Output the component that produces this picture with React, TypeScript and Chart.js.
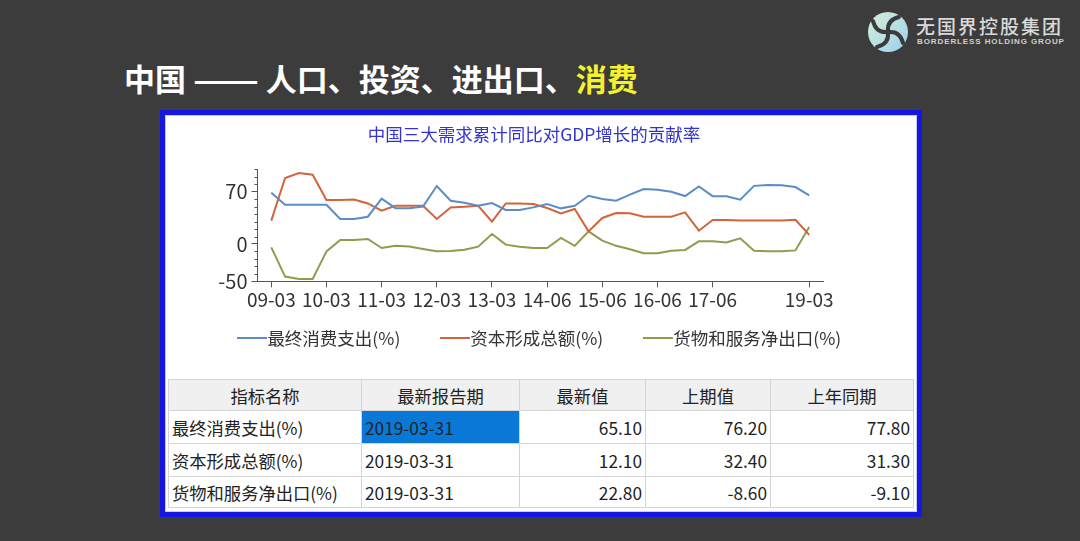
import React, { useEffect, useRef } from 'react';
import { Chart, registerables } from 'chart.js';

Chart.register(...registerables);

const FONT = '"Noto Sans CJK SC", "Noto Sans", sans-serif';

// ---------- data ----------
const categories = [
  '09-03', '09-06', '09-09', '09-12', '10-03', '10-06', '10-09', '10-12',
  '11-03', '11-06', '11-09', '11-12', '12-03', '12-06', '12-09', '12-12',
  '13-03', '13-06', '13-09', '13-12', '14-06', '14-09', '14-12', '15-03',
  '15-06', '15-09', '15-12', '16-03', '16-06', '16-09', '16-12', '17-03',
  '17-06', '17-09', '17-12', '18-03', '18-06', '18-09', '18-12', '19-03',
];
const shownTickIndex = [0, 4, 8, 12, 16, 20, 24, 28, 32, 39];

const seriesNames = ['最终消费支出(%)', '资本形成总额(%)', '货物和服务净出口(%)'];
const consumption = [
  68.6, 52.6, 52.6, 52.6, 52.6, 33.4, 33.4, 36.5, 60.6, 48.0,
  48.0, 50.0, 77.6, 57.9, 55.3, 51.2, 54.8, 45.5, 45.5, 49.0,
  53.5, 47.7, 51.2, 64.6, 60.2, 57.9, 66.0, 73.6, 72.6, 70.0,
  64.2, 77.0, 64.0, 64.0, 59.3, 77.8, 78.9, 78.5, 76.2, 65.1,
];
const capital = [
  31.2, 88.3, 95.0, 92.7, 58.9, 58.9, 59.5, 54.3, 44.5, 51.2,
  51.2, 51.2, 33.4, 49.0, 49.7, 51.2, 29.8, 54.3, 54.3, 53.5,
  48.2, 41.0, 46.8, 16.9, 34.8, 41.5, 41.0, 36.5, 36.5, 36.5,
  42.3, 17.8, 32.1, 32.1, 31.4, 31.3, 31.4, 31.4, 32.4, 12.1,
];
const netExports = [
  -4.5, -43.7, -46.8, -47.0, -9.9, 5.3, 5.3, 6.7, -5.4, -2.5,
  -3.4, -6.7, -9.9, -9.4, -7.6, -3.6, 13.4, -0.9, -3.6, -5.4,
  -5.4, 8.0, -2.5, 16.9, 4.4, -2.5, -7.0, -12.5, -12.5, -9.0,
  -8.0, 3.5, 3.5, 1.9, 7.5, -9.1, -9.9, -9.9, -8.6, 22.8,
];
const seriesColors = ['#5b8cc8', '#d2643c', '#8e9c4e'];

const yMajorTicks = [-50, 0, 70];
const yMinorTicks = [-40, -30, -20, -10, 10, 20, 30, 40, 50, 60, 80, 90, 100];

const chartTitle = '中国三大需求累计同比对GDP增长的贡献率';

const tableHeaders = ['指标名称', '最新报告期', '最新值', '上期值', '上年同期'];
const tableNames = ['最终消费支出(%)', '资本形成总额(%)', '货物和服务净出口(%)'];
const tablePeriods = ['2019-03-31', '2019-03-31', '2019-03-31'];
const tableLatest = ['65.10', '12.10', '22.80'];
const tablePrevious = ['76.20', '32.40', '-8.60'];
const tableLastYear = ['77.80', '31.30', '-9.10'];

// ---------- plugin for short minor tick marks ----------
const minorTickPlugin = {
  id: 'minorTicks',
  afterDraw(chart: any) {
    const y = chart.scales.y;
    const ctx = chart.ctx;
    const x0 = chart.chartArea.left;
    ctx.save();
    ctx.strokeStyle = '#555';
    ctx.lineWidth = 1;
    for (const v of yMinorTicks) {
      const py = Math.round(y.getPixelForValue(v)) + 0.5;
      ctx.beginPath();
      ctx.moveTo(x0 - 3, py);
      ctx.lineTo(x0, py);
      ctx.stroke();
    }
    ctx.restore();
  },
};

function Logo() {
  const blades = [0, 90, 180, 270];
  return (
    <svg width={44} height={44} viewBox="0 0 44 44" style={{ position: 'absolute', left: 866, top: 10 }}>
      <defs>
        <linearGradient id="lg" x1="0" y1="0" x2="1" y2="1">
          <stop offset="0" stopColor="#d6f0d8" />
          <stop offset="1" stopColor="#9ccfee" />
        </linearGradient>
      </defs>
      <circle cx={22} cy={22} r={20} fill="url(#lg)" />
      {blades.map((r) => (
        <path
          key={r}
          d="M22 21 Q 21 10 33 7"
          fill="none"
          stroke="#3b3b3b"
          strokeWidth={4}
          strokeLinecap="round"
          transform={`rotate(${r} 22 22)`}
        />
      ))}
      <circle cx={22} cy={22} r={3} fill="#3b3b3b" />
    </svg>
  );
}

export default function App() {
  const canvasRef = useRef<HTMLCanvasElement>(null);

  useEffect(() => {
    const seriesData = [consumption, capital, netExports];
    const chart = new Chart(canvasRef.current as HTMLCanvasElement, {
      type: 'line',
      data: {
        datasets: seriesData.map((arr, k) => ({
          label: seriesNames[k],
          data: arr.map((v, i) => ({ x: i, y: v })),
          borderColor: seriesColors[k],
          backgroundColor: seriesColors[k],
          borderWidth: 2,
          pointRadius: 0,
          tension: 0,
          fill: false,
        })),
      },
      options: {
        animation: false,
        responsive: false,
        maintainAspectRatio: false,
        layout: { padding: { left: 0, right: 14, top: 0, bottom: 55.7 } },
        plugins: {
          title: {
            display: true,
            text: chartTitle,
            color: '#3434cc',
            font: { family: FONT, size: 17.5, weight: 'normal' },
            padding: { top: 8.5, bottom: 24.8 },
          },
          legend: { display: false },
          tooltip: { enabled: false },
        },
        scales: {
          x: {
            type: 'linear',
            min: -1,
            max: 40,
            afterBuildTicks: (axis: any) => {
              axis.ticks = shownTickIndex.map((v) => ({ value: v }));
            },
            afterFit: (axis: any) => {
              axis.height = 40;
            },
            grid: { drawOnChartArea: false, tickLength: 6, color: '#555' },
            border: { color: '#555', width: 1 },
            ticks: {
              autoSkip: false,
              maxRotation: 0,
              padding: 1,
              color: '#333',
              font: { family: FONT, size: 19 },
              callback: (value: any) => categories[value] ?? '',
            },
          },
          y: {
            min: -50,
            max: 100,
            afterBuildTicks: (axis: any) => {
              axis.ticks = yMajorTicks.map((v) => ({ value: v }));
            },
            afterFit: (axis: any) => {
              axis.width = 92.5;
            },
            grid: { drawOnChartArea: false, tickLength: 6, color: '#555' },
            border: { color: '#555', width: 1 },
            ticks: {
              padding: 4,
              color: '#333',
              font: { family: FONT, size: 20 },
              callback: (value: any) => String(value),
            },
          },
          y2: {
            position: 'right',
            min: 0,
            max: 1,
            grid: { display: false },
            border: { display: false },
            ticks: { display: false },
            afterFit: (axis: any) => {
              axis.width = 80;
            },
          },
        },
      } as any,
      plugins: [minorTickPlugin],
    });
    return () => chart.destroy();
  }, []);

  const colWidths = [193, 158, 126, 125, 143];
  const rows = tableNames.map((n, i) => [n, tablePeriods[i], tableLatest[i], tablePrevious[i], tableLastYear[i]]);
  const cellBorder = '1px solid #d4d4d4';

  return (
    <div
      style={{
        position: 'fixed',
        left: 0,
        top: 0,
        width: 1080,
        height: 541,
        background: '#3c3c3c',
        overflow: 'hidden',
        fontFamily: FONT,
      }}
    >
      <Logo />
      <div
        style={{
          position: 'absolute',
          left: 916,
          top: 15,
          fontSize: 19,
          lineHeight: '22px',
          color: '#d9d9d9',
          letterSpacing: 2,
          fontWeight: 500,
          whiteSpace: 'nowrap',
        }}
      >
        无国界控股集团
      </div>
      <div
        style={{
          position: 'absolute',
          left: 917,
          top: 37,
          fontSize: 8,
          lineHeight: '10px',
          color: '#cfcfcf',
          letterSpacing: 0.9,
          fontWeight: 700,
          fontFamily: '"Liberation Sans", Arial, sans-serif',
          whiteSpace: 'nowrap',
        }}
      >
        BORDERLESS HOLDING GROUP
      </div>

      <div
        style={{
          position: 'absolute',
          left: 124,
          top: 58,
          fontSize: 31,
          lineHeight: '40px',
          fontWeight: 700,
          color: '#ffffff',
          whiteSpace: 'nowrap',
        }}
      >
        中国{' '}
        <span style={{ display: 'inline-block', transform: 'scaleX(1.25)', transformOrigin: 'left center', marginRight: 13 }}>
          ——
        </span>{' '}
        人口、投资、进出口、<span style={{ color: '#f4f22c' }}>消费</span>
      </div>

      <div
        style={{
          position: 'absolute',
          left: 160,
          top: 110,
          width: 762,
          height: 407,
          boxSizing: 'border-box',
          border: '5px solid #1616e2',
          background: '#ffffff',
        }}
      >
        <div
          style={{
            position: 'absolute',
            left: 0,
            top: 0,
            right: 0,
            bottom: 0,
            border: '1px solid #c6cbf2',
          }}
        />
        <canvas
          ref={canvasRef}
          width={752}
          height={262}
          style={{ position: 'absolute', left: 0, top: 0, width: 752, height: 262 }}
        />
        <div
          style={{
            position: 'absolute',
            left: 0,
            right: 3.4,
            top: 212,
            height: 22,
            display: 'flex',
            justifyContent: 'center',
            alignItems: 'center',
            gap: 40,
            fontSize: 17.5,
            lineHeight: '22px',
            color: '#333',
            whiteSpace: 'nowrap',
          }}
        >
          {seriesNames.map((n, i) => (
            <div key={i} style={{ display: 'flex', alignItems: 'center' }}>
              <span style={{ display: 'inline-block', width: 30, height: 2, background: seriesColors[i] }} />
              <span>{n}</span>
            </div>
          ))}
        </div>
        <table
          style={{
            position: 'absolute',
            left: 3,
            top: 264,
            width: 745,
            borderCollapse: 'collapse',
            tableLayout: 'fixed',
            fontSize: 17.3,
            color: '#222',
            fontFamily: FONT,
            border: '1px solid #c8c8c8',
          }}
        >
          <colgroup>
            {colWidths.map((w, i) => (
              <col key={i} style={{ width: w }} />
            ))}
          </colgroup>
          <thead>
            <tr style={{ height: 31, background: '#f0f0f0' }}>
              {tableHeaders.map((h, i) => (
                <th
                  key={i}
                  style={{ fontWeight: 400, border: cellBorder, padding: 0, textAlign: 'center', whiteSpace: 'nowrap' }}
                >
                  {h}
                </th>
              ))}
            </tr>
          </thead>
          <tbody>
            {rows.map((r, ri) => (
              <tr key={ri} style={{ height: ri === 2 ? 31 : 33 }}>
                {r.map((c, ci) => (
                  <td
                    key={ci}
                    style={{
                      border: cellBorder,
                      padding: '0 3px',
                      textAlign: ci >= 2 ? 'right' : 'left',
                      whiteSpace: 'nowrap',
                      background: ri === 0 && ci === 1 ? '#0a78d6' : 'transparent',
                    }}
                  >
                    {c}
                  </td>
                ))}
              </tr>
            ))}
          </tbody>
        </table>
      </div>
    </div>
  );
}
